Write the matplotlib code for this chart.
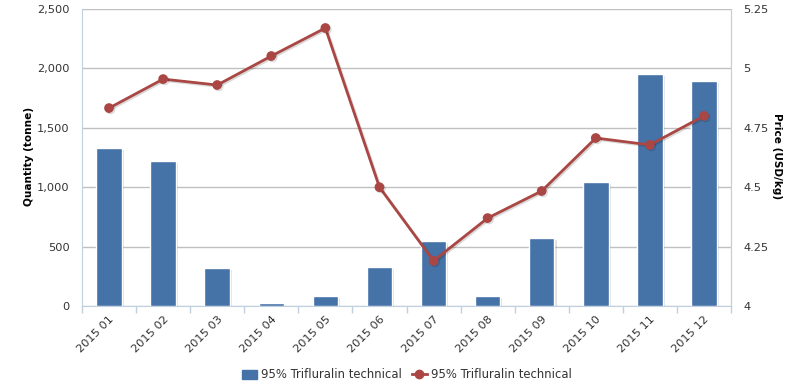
import matplotlib
matplotlib.use("Agg")
import matplotlib.pyplot as plt
from matplotlib.patches import Patch
from matplotlib.lines import Line2D
import matplotlib.patheffects as pe

categories = ["2015 01", "2015 02", "2015 03", "2015 04", "2015 05", "2015 06",
              "2015 07", "2015 08", "2015 09", "2015 10", "2015 11", "2015 12"]
quantity = [1330, 1220, 320, 25, 85, 330, 547, 85, 572, 1044, 1953, 1894]
price = [4.833, 4.955, 4.93, 5.052, 5.17, 4.50, 4.19, 4.37, 4.484, 4.707, 4.678, 4.80]
series_name = "95% Trifluralin technical"
q_ticks = [0, 500, 1000, 1500, 2000, 2500]
p_ticks = [4, 4.25, 4.5, 4.75, 5, 5.25]
p_labels = ["4", "4.25", "4.5", "4.75", "5", "5.25"]

plt.rcParams['font.family'] = ['DejaVu Sans']
bar_color = "#4572A7"
line_color = "#AA4643"
axis_color = "#C0D0E0"
text_color = "#333333"
tick_fs = 8.2

fig = plt.figure(figsize=(8.08, 3.89), dpi=100)
ax = fig.add_axes([82/808, 83/389, 649/808, 297/389])
x = list(range(len(categories)))

ax.bar(x, quantity, width=0.47, color=bar_color, edgecolor="white", linewidth=1.0, zorder=3,
       path_effects=[pe.SimplePatchShadow(offset=(1.5, -1.5), shadow_rgbFace="#000000", alpha=0.12), pe.Normal()])
ax.set_xlim(-0.5, len(categories) - 0.5)
ax.set_ylim(0, 2500)
ax.set_yticks(q_ticks)
ax.set_yticklabels([f"{v:,}" for v in q_ticks], fontsize=tick_fs, color=text_color)
ax.yaxis.grid(True, color="#C0C0C0", linewidth=1, zorder=0)
ax.set_axisbelow(True)
ax.tick_params(axis='y', length=0, pad=9)
ax.set_xticks(x)
ax.set_xticklabels(categories, rotation=45, ha="right", rotation_mode="anchor", fontsize=tick_fs, color=text_color)
ax.tick_params(axis='x', length=0, pad=6)
ax.set_xticks([i + 0.5 for i in range(-1, len(categories))], minor=True)
ax.tick_params(axis='x', which='minor', length=5, color=axis_color, width=1)
ax.spines["top"].set_visible(False)
for s in ["left", "bottom", "right"]:
    ax.spines[s].set_color(axis_color)
ax.set_ylabel("Quantity (tonne)", fontsize=7.6, fontweight="bold", color="black")
ax.yaxis.set_label_coords((34 - 82) / 649, (306 - 156) / 297)

ax2 = ax.twinx()
ax2.plot(x, price, color=line_color, linewidth=2, marker="o", markersize=6, zorder=5,
         path_effects=[pe.SimpleLineShadow(offset=(1, -1), alpha=0.15), pe.Normal()])
ax2.set_ylim(4, 5.25)
ax2.set_yticks(p_ticks)
ax2.set_yticklabels(p_labels, fontsize=tick_fs, color=text_color)
ax2.tick_params(axis='y', length=0, pad=9)
for s in ["top", "left", "bottom"]:
    ax2.spines[s].set_visible(False)
ax2.spines["right"].set_color(axis_color)
ax2.set_ylabel("Price (USD/kg)", fontsize=7.6, fontweight="bold", color="black", rotation=270, va="center")
ax2.yaxis.set_label_coords((777 - 82) / 649, (306 - 156) / 297)

handles = [Patch(facecolor=bar_color, edgecolor=bar_color),
           Line2D([0], [0], color=line_color, linewidth=2, marker="o", markersize=6)]
fig.legend(handles, [series_name, series_name], loc="center", bbox_to_anchor=(407/808, 1 - 375/389),
           ncol=2, frameon=False, fontsize=8.4, handlelength=1.3, handletextpad=0.4, columnspacing=0.8,
           labelcolor=text_color)

fig.savefig("out.png", dpi=100)
